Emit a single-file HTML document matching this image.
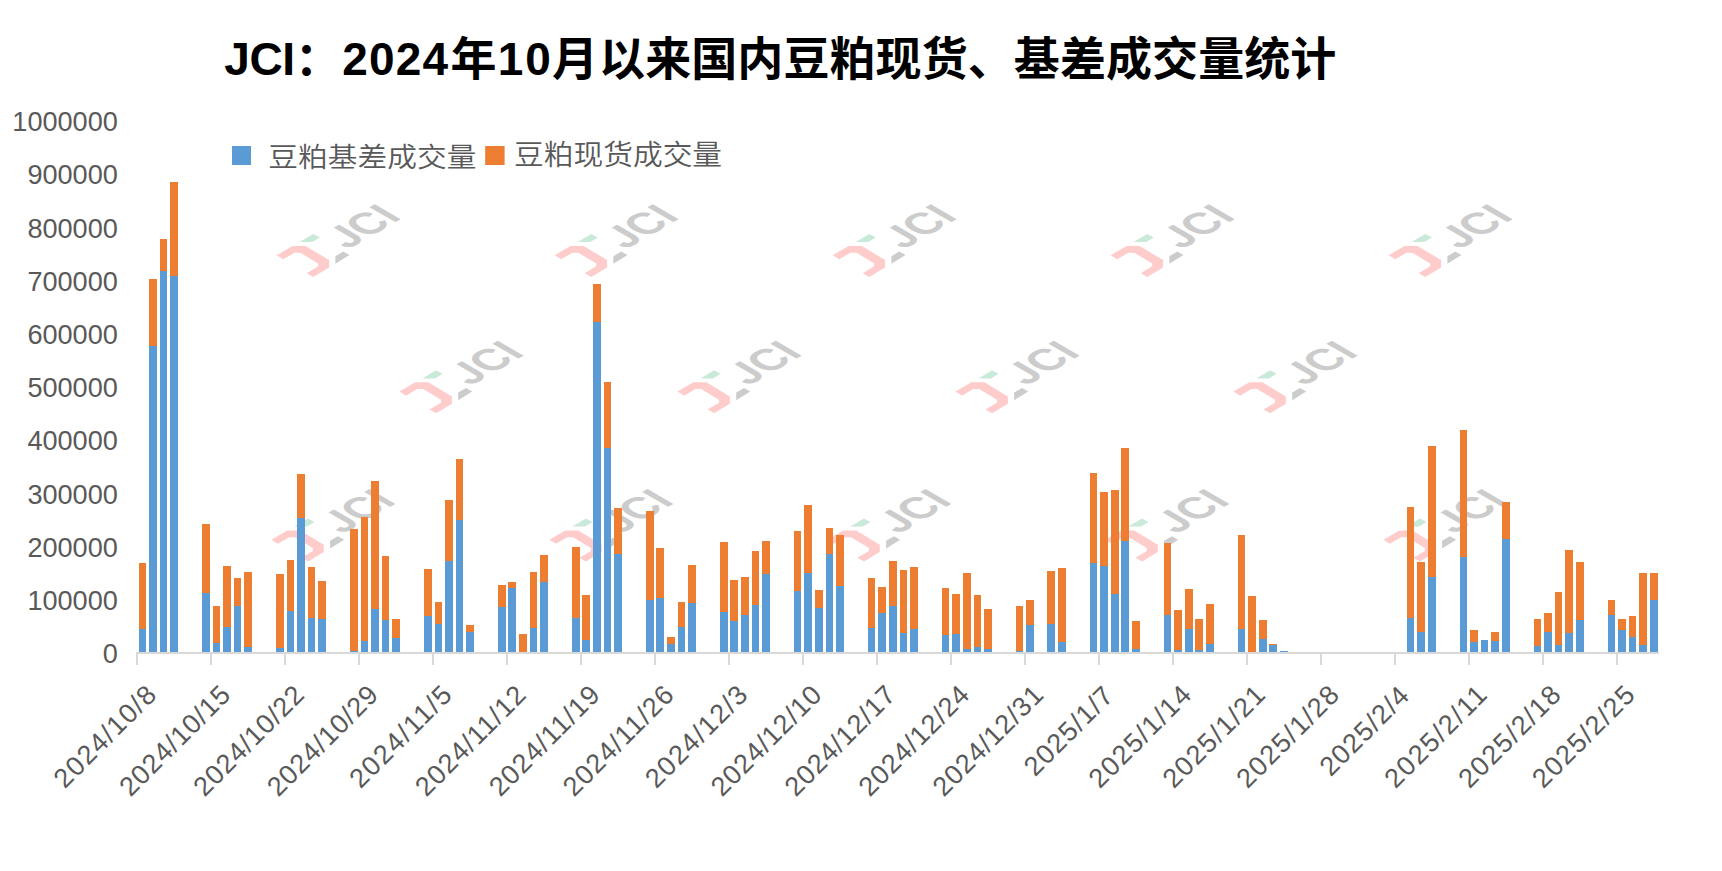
<!DOCTYPE html>
<html lang="zh-CN">
<head>
<meta charset="utf-8">
<title>JCI：2024年10月以来国内豆粕现货、基差成交量统计</title>
<style>
html,body{margin:0;padding:0;background:#fff;}
body{width:1722px;height:871px;overflow:hidden;}
svg{display:block;}
.t{font-family:"Liberation Sans","Noto Sans CJK SC",sans-serif;font-weight:700;font-size:46px;fill:#000;}
.lg{font-family:"Liberation Sans","Noto Sans CJK SC",sans-serif;font-weight:350;font-size:29.75px;fill:#595959;}
.ax{font-family:"Liberation Sans",sans-serif;font-size:27.1px;fill:#595959;}
</style>
</head>
<body>
<svg width="1722" height="871" viewBox="0 0 1722 871">
<defs>
<clipPath id="jc"><path clip-rule="evenodd" d="M-10,-60H100V30H-10Z M-3,-34H14.9V-24.3H-3Z"/></clipPath>
</defs>
<rect width="1722" height="871" fill="#fff"/>
<g id="watermarks">
<g transform="translate(0.25,-0.12)"><polygon fill="#FFCCCC" points="276.45,255.32 292.27,246.05 305.36,246.05 328.82,260.23 328.82,267.54 313.0,277.03 306.45,273.32 317.91,266.45 317.91,263.51 300.13,252.82 294.24,252.82 283.0,259.36"/>
<polygon fill="#C9E9D9" points="299.36,242.13 313.0,234.05 319.54,237.54 312.13,242.13"/>
<polygon fill="#CCCCCC" points="335.14,256.31 343.0,251.73 349.21,255.22 335.14,263.94"/>
<text transform="matrix(0.821,-0.474,0.866,0.5,347.3,249.95)" clip-path="url(#jc)" x="0" y="0" font-family="'Liberation Sans',sans-serif" font-weight="700" font-size="43.4" fill="#CCCCCC">JCI</text></g>
<g transform="translate(278.25,-0.12)"><polygon fill="#FFCCCC" points="276.45,255.32 292.27,246.05 305.36,246.05 328.82,260.23 328.82,267.54 313.0,277.03 306.45,273.32 317.91,266.45 317.91,263.51 300.13,252.82 294.24,252.82 283.0,259.36"/>
<polygon fill="#C9E9D9" points="299.36,242.13 313.0,234.05 319.54,237.54 312.13,242.13"/>
<polygon fill="#CCCCCC" points="335.14,256.31 343.0,251.73 349.21,255.22 335.14,263.94"/>
<text transform="matrix(0.821,-0.474,0.866,0.5,347.3,249.95)" clip-path="url(#jc)" x="0" y="0" font-family="'Liberation Sans',sans-serif" font-weight="700" font-size="43.4" fill="#CCCCCC">JCI</text></g>
<g transform="translate(556.25,-0.12)"><polygon fill="#FFCCCC" points="276.45,255.32 292.27,246.05 305.36,246.05 328.82,260.23 328.82,267.54 313.0,277.03 306.45,273.32 317.91,266.45 317.91,263.51 300.13,252.82 294.24,252.82 283.0,259.36"/>
<polygon fill="#C9E9D9" points="299.36,242.13 313.0,234.05 319.54,237.54 312.13,242.13"/>
<polygon fill="#CCCCCC" points="335.14,256.31 343.0,251.73 349.21,255.22 335.14,263.94"/>
<text transform="matrix(0.821,-0.474,0.866,0.5,347.3,249.95)" clip-path="url(#jc)" x="0" y="0" font-family="'Liberation Sans',sans-serif" font-weight="700" font-size="43.4" fill="#CCCCCC">JCI</text></g>
<g transform="translate(834.25,-0.12)"><polygon fill="#FFCCCC" points="276.45,255.32 292.27,246.05 305.36,246.05 328.82,260.23 328.82,267.54 313.0,277.03 306.45,273.32 317.91,266.45 317.91,263.51 300.13,252.82 294.24,252.82 283.0,259.36"/>
<polygon fill="#C9E9D9" points="299.36,242.13 313.0,234.05 319.54,237.54 312.13,242.13"/>
<polygon fill="#CCCCCC" points="335.14,256.31 343.0,251.73 349.21,255.22 335.14,263.94"/>
<text transform="matrix(0.821,-0.474,0.866,0.5,347.3,249.95)" clip-path="url(#jc)" x="0" y="0" font-family="'Liberation Sans',sans-serif" font-weight="700" font-size="43.4" fill="#CCCCCC">JCI</text></g>
<g transform="translate(1112.25,-0.12)"><polygon fill="#FFCCCC" points="276.45,255.32 292.27,246.05 305.36,246.05 328.82,260.23 328.82,267.54 313.0,277.03 306.45,273.32 317.91,266.45 317.91,263.51 300.13,252.82 294.24,252.82 283.0,259.36"/>
<polygon fill="#C9E9D9" points="299.36,242.13 313.0,234.05 319.54,237.54 312.13,242.13"/>
<polygon fill="#CCCCCC" points="335.14,256.31 343.0,251.73 349.21,255.22 335.14,263.94"/>
<text transform="matrix(0.821,-0.474,0.866,0.5,347.3,249.95)" clip-path="url(#jc)" x="0" y="0" font-family="'Liberation Sans',sans-serif" font-weight="700" font-size="43.4" fill="#CCCCCC">JCI</text></g>
<g transform="translate(123.05,136.28)"><polygon fill="#FFCCCC" points="276.45,255.32 292.27,246.05 305.36,246.05 328.82,260.23 328.82,267.54 313.0,277.03 306.45,273.32 317.91,266.45 317.91,263.51 300.13,252.82 294.24,252.82 283.0,259.36"/>
<polygon fill="#C9E9D9" points="299.36,242.13 313.0,234.05 319.54,237.54 312.13,242.13"/>
<polygon fill="#CCCCCC" points="335.14,256.31 343.0,251.73 349.21,255.22 335.14,263.94"/>
<text transform="matrix(0.821,-0.474,0.866,0.5,347.3,249.95)" clip-path="url(#jc)" x="0" y="0" font-family="'Liberation Sans',sans-serif" font-weight="700" font-size="43.4" fill="#CCCCCC">JCI</text></g>
<g transform="translate(401.05,136.28)"><polygon fill="#FFCCCC" points="276.45,255.32 292.27,246.05 305.36,246.05 328.82,260.23 328.82,267.54 313.0,277.03 306.45,273.32 317.91,266.45 317.91,263.51 300.13,252.82 294.24,252.82 283.0,259.36"/>
<polygon fill="#C9E9D9" points="299.36,242.13 313.0,234.05 319.54,237.54 312.13,242.13"/>
<polygon fill="#CCCCCC" points="335.14,256.31 343.0,251.73 349.21,255.22 335.14,263.94"/>
<text transform="matrix(0.821,-0.474,0.866,0.5,347.3,249.95)" clip-path="url(#jc)" x="0" y="0" font-family="'Liberation Sans',sans-serif" font-weight="700" font-size="43.4" fill="#CCCCCC">JCI</text></g>
<g transform="translate(679.05,136.28)"><polygon fill="#FFCCCC" points="276.45,255.32 292.27,246.05 305.36,246.05 328.82,260.23 328.82,267.54 313.0,277.03 306.45,273.32 317.91,266.45 317.91,263.51 300.13,252.82 294.24,252.82 283.0,259.36"/>
<polygon fill="#C9E9D9" points="299.36,242.13 313.0,234.05 319.54,237.54 312.13,242.13"/>
<polygon fill="#CCCCCC" points="335.14,256.31 343.0,251.73 349.21,255.22 335.14,263.94"/>
<text transform="matrix(0.821,-0.474,0.866,0.5,347.3,249.95)" clip-path="url(#jc)" x="0" y="0" font-family="'Liberation Sans',sans-serif" font-weight="700" font-size="43.4" fill="#CCCCCC">JCI</text></g>
<g transform="translate(957.05,136.28)"><polygon fill="#FFCCCC" points="276.45,255.32 292.27,246.05 305.36,246.05 328.82,260.23 328.82,267.54 313.0,277.03 306.45,273.32 317.91,266.45 317.91,263.51 300.13,252.82 294.24,252.82 283.0,259.36"/>
<polygon fill="#C9E9D9" points="299.36,242.13 313.0,234.05 319.54,237.54 312.13,242.13"/>
<polygon fill="#CCCCCC" points="335.14,256.31 343.0,251.73 349.21,255.22 335.14,263.94"/>
<text transform="matrix(0.821,-0.474,0.866,0.5,347.3,249.95)" clip-path="url(#jc)" x="0" y="0" font-family="'Liberation Sans',sans-serif" font-weight="700" font-size="43.4" fill="#CCCCCC">JCI</text></g>
<g transform="translate(-5.05,284.48)"><polygon fill="#FFCCCC" points="276.45,255.32 292.27,246.05 305.36,246.05 328.82,260.23 328.82,267.54 313.0,277.03 306.45,273.32 317.91,266.45 317.91,263.51 300.13,252.82 294.24,252.82 283.0,259.36"/>
<polygon fill="#C9E9D9" points="299.36,242.13 313.0,234.05 319.54,237.54 312.13,242.13"/>
<polygon fill="#CCCCCC" points="335.14,256.31 343.0,251.73 349.21,255.22 335.14,263.94"/>
<text transform="matrix(0.821,-0.474,0.866,0.5,347.3,249.95)" clip-path="url(#jc)" x="0" y="0" font-family="'Liberation Sans',sans-serif" font-weight="700" font-size="43.4" fill="#CCCCCC">JCI</text></g>
<g transform="translate(272.95,284.48)"><polygon fill="#FFCCCC" points="276.45,255.32 292.27,246.05 305.36,246.05 328.82,260.23 328.82,267.54 313.0,277.03 306.45,273.32 317.91,266.45 317.91,263.51 300.13,252.82 294.24,252.82 283.0,259.36"/>
<polygon fill="#C9E9D9" points="299.36,242.13 313.0,234.05 319.54,237.54 312.13,242.13"/>
<polygon fill="#CCCCCC" points="335.14,256.31 343.0,251.73 349.21,255.22 335.14,263.94"/>
<text transform="matrix(0.821,-0.474,0.866,0.5,347.3,249.95)" clip-path="url(#jc)" x="0" y="0" font-family="'Liberation Sans',sans-serif" font-weight="700" font-size="43.4" fill="#CCCCCC">JCI</text></g>
<g transform="translate(550.95,284.48)"><polygon fill="#FFCCCC" points="276.45,255.32 292.27,246.05 305.36,246.05 328.82,260.23 328.82,267.54 313.0,277.03 306.45,273.32 317.91,266.45 317.91,263.51 300.13,252.82 294.24,252.82 283.0,259.36"/>
<polygon fill="#C9E9D9" points="299.36,242.13 313.0,234.05 319.54,237.54 312.13,242.13"/>
<polygon fill="#CCCCCC" points="335.14,256.31 343.0,251.73 349.21,255.22 335.14,263.94"/>
<text transform="matrix(0.821,-0.474,0.866,0.5,347.3,249.95)" clip-path="url(#jc)" x="0" y="0" font-family="'Liberation Sans',sans-serif" font-weight="700" font-size="43.4" fill="#CCCCCC">JCI</text></g>
<g transform="translate(828.95,284.48)"><polygon fill="#FFCCCC" points="276.45,255.32 292.27,246.05 305.36,246.05 328.82,260.23 328.82,267.54 313.0,277.03 306.45,273.32 317.91,266.45 317.91,263.51 300.13,252.82 294.24,252.82 283.0,259.36"/>
<polygon fill="#C9E9D9" points="299.36,242.13 313.0,234.05 319.54,237.54 312.13,242.13"/>
<polygon fill="#CCCCCC" points="335.14,256.31 343.0,251.73 349.21,255.22 335.14,263.94"/>
<text transform="matrix(0.821,-0.474,0.866,0.5,347.3,249.95)" clip-path="url(#jc)" x="0" y="0" font-family="'Liberation Sans',sans-serif" font-weight="700" font-size="43.4" fill="#CCCCCC">JCI</text></g>
<g transform="translate(1106.95,284.48)"><polygon fill="#FFCCCC" points="276.45,255.32 292.27,246.05 305.36,246.05 328.82,260.23 328.82,267.54 313.0,277.03 306.45,273.32 317.91,266.45 317.91,263.51 300.13,252.82 294.24,252.82 283.0,259.36"/>
<polygon fill="#C9E9D9" points="299.36,242.13 313.0,234.05 319.54,237.54 312.13,242.13"/>
<polygon fill="#CCCCCC" points="335.14,256.31 343.0,251.73 349.21,255.22 335.14,263.94"/>
<text transform="matrix(0.821,-0.474,0.866,0.5,347.3,249.95)" clip-path="url(#jc)" x="0" y="0" font-family="'Liberation Sans',sans-serif" font-weight="700" font-size="43.4" fill="#CCCCCC">JCI</text></g>
</g>
<g id="bars" shape-rendering="crispEdges">
<rect x="139" y="629" width="7" height="23" fill="#5B9BD5"/>
<rect x="139" y="563" width="7" height="66" fill="#ED7D31"/>
<rect x="149" y="346" width="8" height="306" fill="#5B9BD5"/>
<rect x="149" y="279" width="8" height="67" fill="#ED7D31"/>
<rect x="160" y="271" width="7" height="381" fill="#5B9BD5"/>
<rect x="160" y="239" width="7" height="32" fill="#ED7D31"/>
<rect x="170" y="276" width="8" height="376" fill="#5B9BD5"/>
<rect x="170" y="182" width="8" height="94" fill="#ED7D31"/>
<rect x="202" y="593" width="8" height="59" fill="#5B9BD5"/>
<rect x="202" y="524" width="8" height="69" fill="#ED7D31"/>
<rect x="213" y="643" width="7" height="9" fill="#5B9BD5"/>
<rect x="213" y="606" width="7" height="37" fill="#ED7D31"/>
<rect x="223" y="627" width="8" height="25" fill="#5B9BD5"/>
<rect x="223" y="566" width="8" height="61" fill="#ED7D31"/>
<rect x="234" y="606" width="7" height="46" fill="#5B9BD5"/>
<rect x="234" y="578" width="7" height="28" fill="#ED7D31"/>
<rect x="244" y="647" width="8" height="5" fill="#5B9BD5"/>
<rect x="244" y="572" width="8" height="75" fill="#ED7D31"/>
<rect x="276" y="648" width="8" height="4" fill="#5B9BD5"/>
<rect x="276" y="574" width="8" height="74" fill="#ED7D31"/>
<rect x="287" y="611" width="7" height="41" fill="#5B9BD5"/>
<rect x="287" y="560" width="7" height="51" fill="#ED7D31"/>
<rect x="297" y="518" width="8" height="134" fill="#5B9BD5"/>
<rect x="297" y="474" width="8" height="44" fill="#ED7D31"/>
<rect x="308" y="618" width="7" height="34" fill="#5B9BD5"/>
<rect x="308" y="567" width="7" height="51" fill="#ED7D31"/>
<rect x="318" y="619" width="8" height="33" fill="#5B9BD5"/>
<rect x="318" y="581" width="8" height="38" fill="#ED7D31"/>
<rect x="350" y="651" width="8" height="1" fill="#5B9BD5"/>
<rect x="350" y="529" width="8" height="122" fill="#ED7D31"/>
<rect x="361" y="641" width="7" height="11" fill="#5B9BD5"/>
<rect x="361" y="517" width="7" height="124" fill="#ED7D31"/>
<rect x="371" y="609" width="8" height="43" fill="#5B9BD5"/>
<rect x="371" y="481" width="8" height="128" fill="#ED7D31"/>
<rect x="382" y="620" width="7" height="32" fill="#5B9BD5"/>
<rect x="382" y="556" width="7" height="64" fill="#ED7D31"/>
<rect x="392" y="638" width="8" height="14" fill="#5B9BD5"/>
<rect x="392" y="619" width="8" height="19" fill="#ED7D31"/>
<rect x="424" y="616" width="8" height="36" fill="#5B9BD5"/>
<rect x="424" y="569" width="8" height="47" fill="#ED7D31"/>
<rect x="435" y="624" width="7" height="28" fill="#5B9BD5"/>
<rect x="435" y="602" width="7" height="22" fill="#ED7D31"/>
<rect x="445" y="561" width="8" height="91" fill="#5B9BD5"/>
<rect x="445" y="500" width="8" height="61" fill="#ED7D31"/>
<rect x="456" y="520" width="7" height="132" fill="#5B9BD5"/>
<rect x="456" y="459" width="7" height="61" fill="#ED7D31"/>
<rect x="466" y="632" width="8" height="20" fill="#5B9BD5"/>
<rect x="466" y="625" width="8" height="7" fill="#ED7D31"/>
<rect x="498" y="607" width="8" height="45" fill="#5B9BD5"/>
<rect x="498" y="585" width="8" height="22" fill="#ED7D31"/>
<rect x="508" y="588" width="8" height="64" fill="#5B9BD5"/>
<rect x="508" y="582" width="8" height="6" fill="#ED7D31"/>
<rect x="519" y="634" width="8" height="18" fill="#ED7D31"/>
<rect x="530" y="628" width="7" height="24" fill="#5B9BD5"/>
<rect x="530" y="572" width="7" height="56" fill="#ED7D31"/>
<rect x="540" y="582" width="8" height="70" fill="#5B9BD5"/>
<rect x="540" y="555" width="8" height="27" fill="#ED7D31"/>
<rect x="572" y="618" width="8" height="34" fill="#5B9BD5"/>
<rect x="572" y="547" width="8" height="71" fill="#ED7D31"/>
<rect x="582" y="640" width="8" height="12" fill="#5B9BD5"/>
<rect x="582" y="595" width="8" height="45" fill="#ED7D31"/>
<rect x="593" y="322" width="8" height="330" fill="#5B9BD5"/>
<rect x="593" y="284" width="8" height="38" fill="#ED7D31"/>
<rect x="604" y="448" width="7" height="204" fill="#5B9BD5"/>
<rect x="604" y="382" width="7" height="66" fill="#ED7D31"/>
<rect x="614" y="554" width="8" height="98" fill="#5B9BD5"/>
<rect x="614" y="508" width="8" height="46" fill="#ED7D31"/>
<rect x="646" y="600" width="8" height="52" fill="#5B9BD5"/>
<rect x="646" y="511" width="8" height="89" fill="#ED7D31"/>
<rect x="656" y="598" width="8" height="54" fill="#5B9BD5"/>
<rect x="656" y="548" width="8" height="50" fill="#ED7D31"/>
<rect x="667" y="644" width="8" height="8" fill="#5B9BD5"/>
<rect x="667" y="637" width="8" height="7" fill="#ED7D31"/>
<rect x="678" y="627" width="7" height="25" fill="#5B9BD5"/>
<rect x="678" y="602" width="7" height="25" fill="#ED7D31"/>
<rect x="688" y="603" width="8" height="49" fill="#5B9BD5"/>
<rect x="688" y="565" width="8" height="38" fill="#ED7D31"/>
<rect x="720" y="612" width="8" height="40" fill="#5B9BD5"/>
<rect x="720" y="542" width="8" height="70" fill="#ED7D31"/>
<rect x="730" y="621" width="8" height="31" fill="#5B9BD5"/>
<rect x="730" y="580" width="8" height="41" fill="#ED7D31"/>
<rect x="741" y="615" width="8" height="37" fill="#5B9BD5"/>
<rect x="741" y="577" width="8" height="38" fill="#ED7D31"/>
<rect x="752" y="605" width="7" height="47" fill="#5B9BD5"/>
<rect x="752" y="551" width="7" height="54" fill="#ED7D31"/>
<rect x="762" y="574" width="8" height="78" fill="#5B9BD5"/>
<rect x="762" y="541" width="8" height="33" fill="#ED7D31"/>
<rect x="794" y="591" width="7" height="61" fill="#5B9BD5"/>
<rect x="794" y="531" width="7" height="60" fill="#ED7D31"/>
<rect x="804" y="573" width="8" height="79" fill="#5B9BD5"/>
<rect x="804" y="505" width="8" height="68" fill="#ED7D31"/>
<rect x="815" y="608" width="8" height="44" fill="#5B9BD5"/>
<rect x="815" y="590" width="8" height="18" fill="#ED7D31"/>
<rect x="826" y="554" width="7" height="98" fill="#5B9BD5"/>
<rect x="826" y="528" width="7" height="26" fill="#ED7D31"/>
<rect x="836" y="586" width="8" height="66" fill="#5B9BD5"/>
<rect x="836" y="535" width="8" height="51" fill="#ED7D31"/>
<rect x="868" y="628" width="7" height="24" fill="#5B9BD5"/>
<rect x="868" y="578" width="7" height="50" fill="#ED7D31"/>
<rect x="878" y="613" width="8" height="39" fill="#5B9BD5"/>
<rect x="878" y="587" width="8" height="26" fill="#ED7D31"/>
<rect x="889" y="606" width="8" height="46" fill="#5B9BD5"/>
<rect x="889" y="561" width="8" height="45" fill="#ED7D31"/>
<rect x="900" y="633" width="7" height="19" fill="#5B9BD5"/>
<rect x="900" y="570" width="7" height="63" fill="#ED7D31"/>
<rect x="910" y="629" width="8" height="23" fill="#5B9BD5"/>
<rect x="910" y="567" width="8" height="62" fill="#ED7D31"/>
<rect x="942" y="635" width="7" height="17" fill="#5B9BD5"/>
<rect x="942" y="588" width="7" height="47" fill="#ED7D31"/>
<rect x="952" y="634" width="8" height="18" fill="#5B9BD5"/>
<rect x="952" y="594" width="8" height="40" fill="#ED7D31"/>
<rect x="963" y="649" width="8" height="3" fill="#5B9BD5"/>
<rect x="963" y="573" width="8" height="76" fill="#ED7D31"/>
<rect x="974" y="647" width="7" height="5" fill="#5B9BD5"/>
<rect x="974" y="595" width="7" height="52" fill="#ED7D31"/>
<rect x="984" y="649" width="8" height="3" fill="#5B9BD5"/>
<rect x="984" y="609" width="8" height="40" fill="#ED7D31"/>
<rect x="1016" y="651" width="7" height="1" fill="#5B9BD5"/>
<rect x="1016" y="606" width="7" height="45" fill="#ED7D31"/>
<rect x="1026" y="625" width="8" height="27" fill="#5B9BD5"/>
<rect x="1026" y="600" width="8" height="25" fill="#ED7D31"/>
<rect x="1047" y="624" width="8" height="28" fill="#5B9BD5"/>
<rect x="1047" y="571" width="8" height="53" fill="#ED7D31"/>
<rect x="1058" y="642" width="8" height="10" fill="#5B9BD5"/>
<rect x="1058" y="568" width="8" height="74" fill="#ED7D31"/>
<rect x="1090" y="563" width="7" height="89" fill="#5B9BD5"/>
<rect x="1090" y="473" width="7" height="90" fill="#ED7D31"/>
<rect x="1100" y="566" width="8" height="86" fill="#5B9BD5"/>
<rect x="1100" y="492" width="8" height="74" fill="#ED7D31"/>
<rect x="1111" y="594" width="8" height="58" fill="#5B9BD5"/>
<rect x="1111" y="490" width="8" height="104" fill="#ED7D31"/>
<rect x="1121" y="541" width="8" height="111" fill="#5B9BD5"/>
<rect x="1121" y="448" width="8" height="93" fill="#ED7D31"/>
<rect x="1132" y="649" width="8" height="3" fill="#5B9BD5"/>
<rect x="1132" y="621" width="8" height="28" fill="#ED7D31"/>
<rect x="1164" y="615" width="7" height="37" fill="#5B9BD5"/>
<rect x="1164" y="543" width="7" height="72" fill="#ED7D31"/>
<rect x="1174" y="650" width="8" height="2" fill="#5B9BD5"/>
<rect x="1174" y="610" width="8" height="40" fill="#ED7D31"/>
<rect x="1185" y="629" width="8" height="23" fill="#5B9BD5"/>
<rect x="1185" y="589" width="8" height="40" fill="#ED7D31"/>
<rect x="1195" y="650" width="8" height="2" fill="#5B9BD5"/>
<rect x="1195" y="619" width="8" height="31" fill="#ED7D31"/>
<rect x="1206" y="644" width="8" height="8" fill="#5B9BD5"/>
<rect x="1206" y="604" width="8" height="40" fill="#ED7D31"/>
<rect x="1238" y="629" width="7" height="23" fill="#5B9BD5"/>
<rect x="1238" y="535" width="7" height="94" fill="#ED7D31"/>
<rect x="1248" y="596" width="8" height="56" fill="#ED7D31"/>
<rect x="1259" y="639" width="8" height="13" fill="#5B9BD5"/>
<rect x="1259" y="620" width="8" height="19" fill="#ED7D31"/>
<rect x="1269" y="645" width="8" height="7" fill="#5B9BD5"/>
<rect x="1269" y="644" width="8" height="1" fill="#ED7D31"/>
<rect x="1280" y="651" width="8" height="1" fill="#5B9BD5"/>
<rect x="1407" y="618" width="7" height="34" fill="#5B9BD5"/>
<rect x="1407" y="507" width="7" height="111" fill="#ED7D31"/>
<rect x="1417" y="632" width="8" height="20" fill="#5B9BD5"/>
<rect x="1417" y="562" width="8" height="70" fill="#ED7D31"/>
<rect x="1428" y="577" width="8" height="75" fill="#5B9BD5"/>
<rect x="1428" y="446" width="8" height="131" fill="#ED7D31"/>
<rect x="1460" y="557" width="7" height="95" fill="#5B9BD5"/>
<rect x="1460" y="430" width="7" height="127" fill="#ED7D31"/>
<rect x="1470" y="642" width="8" height="10" fill="#5B9BD5"/>
<rect x="1470" y="630" width="8" height="12" fill="#ED7D31"/>
<rect x="1481" y="640" width="7" height="12" fill="#5B9BD5"/>
<rect x="1491" y="641" width="8" height="11" fill="#5B9BD5"/>
<rect x="1491" y="632" width="8" height="9" fill="#ED7D31"/>
<rect x="1502" y="539" width="8" height="113" fill="#5B9BD5"/>
<rect x="1502" y="502" width="8" height="37" fill="#ED7D31"/>
<rect x="1534" y="646" width="7" height="6" fill="#5B9BD5"/>
<rect x="1534" y="619" width="7" height="27" fill="#ED7D31"/>
<rect x="1544" y="632" width="8" height="20" fill="#5B9BD5"/>
<rect x="1544" y="613" width="8" height="19" fill="#ED7D31"/>
<rect x="1555" y="645" width="7" height="7" fill="#5B9BD5"/>
<rect x="1555" y="592" width="7" height="53" fill="#ED7D31"/>
<rect x="1565" y="633" width="8" height="19" fill="#5B9BD5"/>
<rect x="1565" y="550" width="8" height="83" fill="#ED7D31"/>
<rect x="1576" y="620" width="8" height="32" fill="#5B9BD5"/>
<rect x="1576" y="562" width="8" height="58" fill="#ED7D31"/>
<rect x="1608" y="615" width="7" height="37" fill="#5B9BD5"/>
<rect x="1608" y="600" width="7" height="15" fill="#ED7D31"/>
<rect x="1618" y="630" width="8" height="22" fill="#5B9BD5"/>
<rect x="1618" y="619" width="8" height="11" fill="#ED7D31"/>
<rect x="1629" y="637" width="7" height="15" fill="#5B9BD5"/>
<rect x="1629" y="616" width="7" height="21" fill="#ED7D31"/>
<rect x="1639" y="645" width="8" height="7" fill="#5B9BD5"/>
<rect x="1639" y="573" width="8" height="72" fill="#ED7D31"/>
<rect x="1650" y="600" width="8" height="52" fill="#5B9BD5"/>
<rect x="1650" y="573" width="8" height="27" fill="#ED7D31"/>
</g>
<g id="xaxis" class="ax" shape-rendering="crispEdges">
<rect x="136" y="652" width="1523" height="2" fill="#D9D9D9"/>
<rect x="136" y="652" width="2" height="13" fill="#D9D9D9"/>
<rect x="210" y="652" width="2" height="13" fill="#D9D9D9"/>
<rect x="284" y="652" width="2" height="13" fill="#D9D9D9"/>
<rect x="358" y="652" width="2" height="13" fill="#D9D9D9"/>
<rect x="432" y="652" width="2" height="13" fill="#D9D9D9"/>
<rect x="506" y="652" width="2" height="13" fill="#D9D9D9"/>
<rect x="580" y="652" width="2" height="13" fill="#D9D9D9"/>
<rect x="654" y="652" width="2" height="13" fill="#D9D9D9"/>
<rect x="728" y="652" width="2" height="13" fill="#D9D9D9"/>
<rect x="802" y="652" width="2" height="13" fill="#D9D9D9"/>
<rect x="876" y="652" width="2" height="13" fill="#D9D9D9"/>
<rect x="950" y="652" width="2" height="13" fill="#D9D9D9"/>
<rect x="1024" y="652" width="2" height="13" fill="#D9D9D9"/>
<rect x="1098" y="652" width="2" height="13" fill="#D9D9D9"/>
<rect x="1172" y="652" width="2" height="13" fill="#D9D9D9"/>
<rect x="1246" y="652" width="2" height="13" fill="#D9D9D9"/>
<rect x="1320" y="652" width="2" height="13" fill="#D9D9D9"/>
<rect x="1394" y="652" width="2" height="13" fill="#D9D9D9"/>
<rect x="1468" y="652" width="2" height="13" fill="#D9D9D9"/>
<rect x="1542" y="652" width="2" height="13" fill="#D9D9D9"/>
<rect x="1616" y="652" width="2" height="13" fill="#D9D9D9"/>
<text transform="translate(157.8,696.6) rotate(-45)" text-anchor="end" textLength="131.5" lengthAdjust="spacing">2024/10/8</text>
<text transform="translate(231.8,696.6) rotate(-45)" text-anchor="end" textLength="143.2" lengthAdjust="spacing">2024/10/15</text>
<text transform="translate(305.7,696.6) rotate(-45)" text-anchor="end" textLength="143.2" lengthAdjust="spacing">2024/10/22</text>
<text transform="translate(379.6,696.6) rotate(-45)" text-anchor="end" textLength="143.2" lengthAdjust="spacing">2024/10/29</text>
<text transform="translate(453.5,696.6) rotate(-45)" text-anchor="end" textLength="131.5" lengthAdjust="spacing">2024/11/5</text>
<text transform="translate(527.5,696.6) rotate(-45)" text-anchor="end" textLength="143.2" lengthAdjust="spacing">2024/11/12</text>
<text transform="translate(601.4,696.6) rotate(-45)" text-anchor="end" textLength="143.2" lengthAdjust="spacing">2024/11/19</text>
<text transform="translate(675.3,696.6) rotate(-45)" text-anchor="end" textLength="143.2" lengthAdjust="spacing">2024/11/26</text>
<text transform="translate(749.2,696.6) rotate(-45)" text-anchor="end" textLength="131.5" lengthAdjust="spacing">2024/12/3</text>
<text transform="translate(823.2,696.6) rotate(-45)" text-anchor="end" textLength="143.2" lengthAdjust="spacing">2024/12/10</text>
<text transform="translate(897.1,696.6) rotate(-45)" text-anchor="end" textLength="143.2" lengthAdjust="spacing">2024/12/17</text>
<text transform="translate(971.0,696.6) rotate(-45)" text-anchor="end" textLength="143.2" lengthAdjust="spacing">2024/12/24</text>
<text transform="translate(1044.9,696.6) rotate(-45)" text-anchor="end" textLength="143.2" lengthAdjust="spacing">2024/12/31</text>
<text transform="translate(1115.0,697.5) rotate(-45)" text-anchor="end" textLength="113.2" lengthAdjust="spacing">2025/1/7</text>
<text transform="translate(1192.8,696.6) rotate(-45)" text-anchor="end" textLength="131.5" lengthAdjust="spacing">2025/1/14</text>
<text transform="translate(1266.7,696.6) rotate(-45)" text-anchor="end" textLength="131.5" lengthAdjust="spacing">2025/1/21</text>
<text transform="translate(1340.6,696.6) rotate(-45)" text-anchor="end" textLength="131.5" lengthAdjust="spacing">2025/1/28</text>
<text transform="translate(1410.7,697.5) rotate(-45)" text-anchor="end" textLength="113.2" lengthAdjust="spacing">2025/2/4</text>
<text transform="translate(1488.5,696.6) rotate(-45)" text-anchor="end" textLength="131.5" lengthAdjust="spacing">2025/2/11</text>
<text transform="translate(1562.4,696.6) rotate(-45)" text-anchor="end" textLength="131.5" lengthAdjust="spacing">2025/2/18</text>
<text transform="translate(1636.3,696.6) rotate(-45)" text-anchor="end" textLength="131.5" lengthAdjust="spacing">2025/2/25</text>
</g>
<g id="yaxis" class="ax">
<text x="117.8" y="131.2" text-anchor="end">1000000</text>
<text x="117.8" y="184.4" text-anchor="end">900000</text>
<text x="117.8" y="237.6" text-anchor="end">800000</text>
<text x="117.8" y="290.8" text-anchor="end">700000</text>
<text x="117.8" y="344.0" text-anchor="end">600000</text>
<text x="117.8" y="397.2" text-anchor="end">500000</text>
<text x="117.8" y="450.4" text-anchor="end">400000</text>
<text x="117.8" y="503.6" text-anchor="end">300000</text>
<text x="117.8" y="556.8" text-anchor="end">200000</text>
<text x="117.8" y="610.0" text-anchor="end">100000</text>
<text x="117.8" y="663.2" text-anchor="end">0</text>
</g>
<g id="legend">
<rect x="232" y="146" width="19" height="19" fill="#5B9BD5"/>
<text class="lg" transform="translate(268.2,166.85) scale(1,0.93)">豆粕基差成交量</text>
<rect x="485.2" y="146" width="19.4" height="19" fill="#ED7D31"/>
<text class="lg" transform="translate(513.9,165.1) scale(1,0.96)">豆粕现货成交量</text>
</g>
<text class="t" y="74.7"><tspan x="224.3" letter-spacing="-0.4">JCI</tspan><tspan x="295">：</tspan><tspan x="342.2" letter-spacing="1.2">2024</tspan><tspan x="450.6">年</tspan><tspan x="497.8" letter-spacing="1.8">10</tspan><tspan x="552.1">月</tspan><tspan x="599.1" letter-spacing="0.08">以来国内豆粕现货、基差成交量统计</tspan></text>
</svg>
</body>
</html>
